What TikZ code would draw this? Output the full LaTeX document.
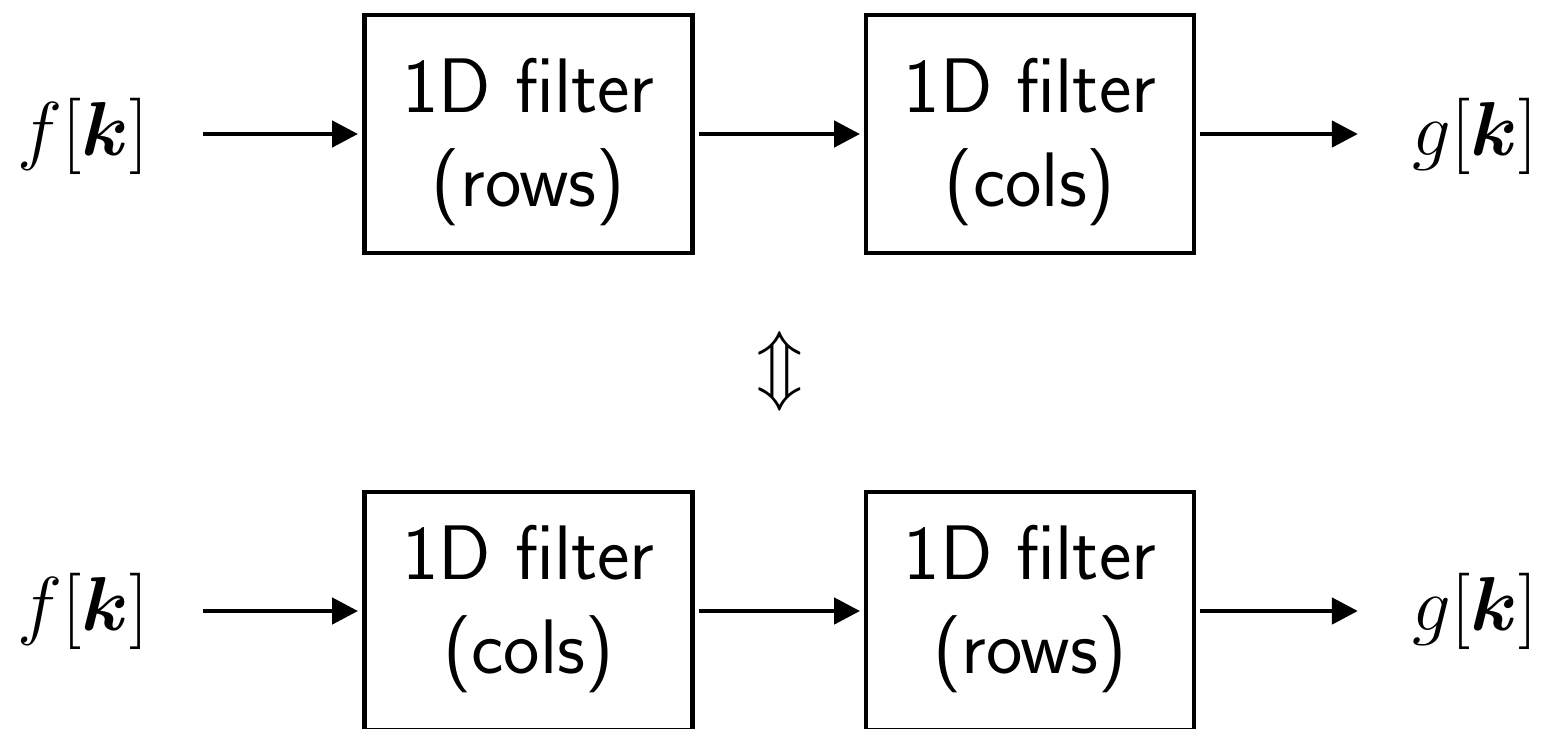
\RequirePackage{fix-cm}
\documentclass[tikz,border=0pt]{standalone}
\usepackage{fontspec}
\usepackage{bm}
\usetikzlibrary{arrows.meta}
\begin{document}
\begin{tikzpicture}[
  x=0.02cm, y=-0.02cm,
  box/.style={draw, line width=2.7pt, minimum width=6.56cm, minimum height=4.76cm,
              inner sep=0pt, outer sep=0pt},
  lbl/.style={font=\sffamily\fontsize{44}{53.5}\selectfont, align=center, inner sep=0pt},
  sig/.style={font=\fontsize{43.5}{51.25}\selectfont, inner sep=0pt, outer sep=0pt},
  arr/.style={line width=2.7pt, -{Triangle[length=0.52cm,width=0.52cm]}},
]
\useasboundingbox (0,0) rectangle (1542,728);
\clip (0,0) rectangle (1542,728);

% upper chain: rows first, then columns
\node[sig] (f1) at (83,136) {$f[\bm{k}]$};
\node[box] (b1) at (528.5,134) {};
\node[box] (b2) at (1030,134) {};
\node[sig] (g1) at (1475,136) {$g[\bm{k}]$};
\node[lbl] (t1) at ([yshift=-0.17cm]b1.center) {1D filter\\(rows)};
\node[lbl] (t2) at ([yshift=-0.17cm]b2.center) {1D filter\\(cols)};

\draw[arr, shorten <=1.1cm, shorten >=0.13cm] (f1.east |- b1.west) -- (b1.west);
\draw[arr, shorten <=0.14cm, shorten >=0.12cm] (b1.east) -- (b2.west);
\draw[arr, shorten <=0.12cm, shorten >=1.1cm] (b2.east) -- (g1.west |- b2.east);

% equivalence sign
\node[sig] (eq) at (780,371) {$\Updownarrow$};

% lower chain: columns first, then rows
\node[sig] (f2) at (83,611) {$f[\bm{k}]$};
\node[box] (b3) at (528.5,611) {};
\node[box] (b4) at (1030,611) {};
\node[sig] (g2) at (1475,611) {$g[\bm{k}]$};
\node[lbl] (t3) at ([yshift=0.04cm]b3.center) {1D filter\\(cols)};
\node[lbl] (t4) at ([yshift=0.04cm]b4.center) {1D filter\\(rows)};

\draw[arr, shorten <=1.1cm, shorten >=0.13cm] (f2.east |- b3.west) -- (b3.west);
\draw[arr, shorten <=0.14cm, shorten >=0.12cm] (b3.east) -- (b4.west);
\draw[arr, shorten <=0.12cm, shorten >=1.1cm] (b4.east) -- (g2.west |- b4.east);
\end{tikzpicture}
\end{document}
